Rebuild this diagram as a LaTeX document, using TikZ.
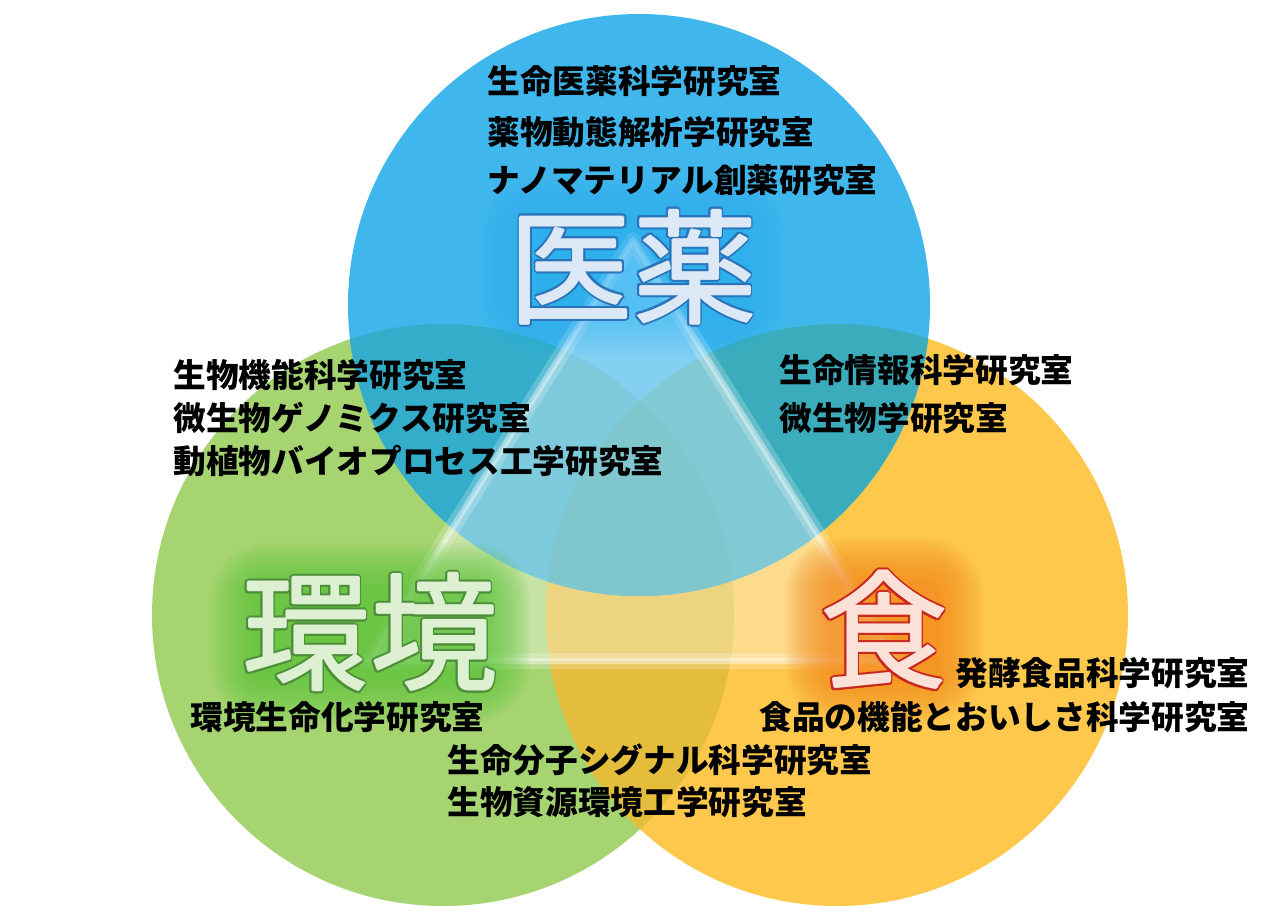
\documentclass[tikz,border=0pt]{standalone}
\usepackage{fontspec}
\newfontfamily\jpfont{Noto Sans CJK JP}
\usetikzlibrary{calc}

\definecolor{yakubg}{HTML}{40B7EC}
\definecolor{kankyobg}{HTML}{A6D471}
\definecolor{shokubg}{HTML}{FDC84C}
\definecolor{yakukankyo}{HTML}{34ADCA}
\definecolor{yakushoku}{HTML}{3BACBC}
\definecolor{kankyoshoku}{HTML}{E3BD3B}
\definecolor{allthree}{HTML}{38A6B1}
\definecolor{yakuglow}{HTML}{1CB0F4}
\definecolor{kankyoglow}{HTML}{5DC63A}
\definecolor{shokuglow}{HTML}{F58A1C}
\definecolor{yakufill}{HTML}{DCE8F6}
\definecolor{yakuline}{HTML}{2A74BA}
\definecolor{kankyofill}{HTML}{DDF1D2}
\definecolor{kankyoline}{HTML}{4C8E3A}
\definecolor{shokufill}{HTML}{FCE1D9}
\definecolor{shokuline}{HTML}{C8281E}

\begin{document}
\begin{tikzpicture}[x=0.02cm, y=-0.02cm,
    lab/.style={inner sep=0pt, font=\jpfont\bfseries\fontsize{18.6pt}{22pt}\selectfont},
    big/.style={inner sep=0pt, font=\jpfont\fontsize{#1}{#1}\selectfont}]
    \useasboundingbox (0,0) rectangle (1280,923);
    \fill[white] (0,0) rectangle (1280,923);

    \coordinate (B) at (639,305);
    \coordinate (G) at (443,615);
    \coordinate (Y) at (837,615);

    % the three fields and their overlaps
    \fill[kankyobg] (G) circle (291);
    \fill[shokubg] (Y) circle (291);
    \fill[yakubg] (B) circle (291);
    \begin{scope}
        \clip (G) circle (291);
        \fill[kankyoshoku] (Y) circle (291);
    \end{scope}
    \begin{scope}
        \clip (B) circle (291);
        \fill[yakukankyo] (G) circle (291);
        \fill[yakushoku] (Y) circle (291);
        \clip (G) circle (291);
        \fill[allthree] (Y) circle (291);
    \end{scope}

    % triangle linking the three fields
    \coordinate (tA) at (633,240);
    \coordinate (tL) at (369,661);
    \coordinate (tR) at (897,661);
    \fill[white, opacity=0.36] (tA) -- (tL) -- (tR) -- cycle;
    \draw[white, opacity=0.22, line width=0.32cm, line join=round] (tA) -- (tL) -- (tR) -- cycle;
    \draw[white, opacity=0.4, line width=0.12cm, line join=round] (tA) -- (tL) -- (tR) -- cycle;

    % soft glows behind the big words
    \foreach \g in {0,...,15} {
        \fill[yakuglow, opacity=0.03, rounded corners=6pt+1.8pt*\g]
            ($(525,222)+(-3*\g,-3*\g)$) rectangle ($(742,312)+(3*\g,3*\g)$);
        \fill[kankyoglow, opacity=0.08, rounded corners=6pt+1.8pt*\g]
            ($(255,588)+(-3*\g,-3*\g)$) rectangle ($(485,678)+(3*\g,3*\g)$);
        \fill[shokuglow, opacity=0.08, rounded corners=6pt+1.8pt*\g]
            ($(830,582)+(-3*\g,-3*\g)$) rectangle ($(938,678)+(3*\g,3*\g)$);
    }

    \coordinate (yakuc) at (633,267);
    \coordinate (kankyoc) at (370,632);
    \coordinate (shokuc) at (884,630);
    \foreach \a in {0,30,...,330} {
        \node[big=70.6pt, text=yakuline] at ($(yakuc)+(\a:2.9)$) {医薬};
        \node[big=72.8pt, text=kankyoline] at ($(kankyoc)+(\a:2.9)$) {環境};
        \node[big=72.8pt, text=shokuline] at ($(shokuc)+(\a:2.9)$) {食};
    }
    \foreach \a in {0,90,180,270} {
        \node[big=70.6pt, text=yakufill] at ($(yakuc)+(\a:1)$) {医薬};
        \node[big=72.8pt, text=kankyofill] at ($(kankyoc)+(\a:1)$) {環境};
        \node[big=72.8pt, text=shokufill] at ($(shokuc)+(\a:1)$) {食};
    }
    \node[big=70.6pt, text=yakufill] (yaku) at (yakuc) {医薬};
    \node[big=72.8pt, text=kankyofill] (kankyo) at (kankyoc) {環境};
    \node[big=72.8pt, text=shokufill] (shoku) at (shokuc) {食};

    % laboratories
    \node[lab, anchor=west] (yaku1) at (487,81) {生命医薬科学研究室};
    \node[lab, anchor=west] (yaku2) at (487,132) {薬物動態解析学研究室};
    \node[lab, anchor=west] (yaku3) at (487,180) {ナノマテリアル創薬研究室};

    \node[lab, anchor=west] (yk1) at (173,375) {生物機能科学研究室};
    \node[lab, anchor=west] (yk2) at (173,418) {微生物ゲノミクス研究室};
    \node[lab, anchor=west] (yk3) at (173,461) {動植物バイオプロセス工学研究室};

    \node[lab, anchor=west] (ys1) at (779,370) {生命情報科学研究室};
    \node[lab, anchor=west] (ys2) at (779,418) {微生物学研究室};

    \node[lab, anchor=east] (shoku1) at (1250,673) {発酵食品科学研究室};
    \node[lab, anchor=east] (shoku2) at (1250,717) {食品の機能とおいしさ科学研究室};

    \node[lab, anchor=west] (kankyo1) at (190,717) {環境生命化学研究室};

    \node[lab, anchor=west] (ks1) at (447,760) {生命分子シグナル科学研究室};
    \node[lab, anchor=west] (ks2) at (447,802) {生物資源環境工学研究室};
\end{tikzpicture}
\end{document}
